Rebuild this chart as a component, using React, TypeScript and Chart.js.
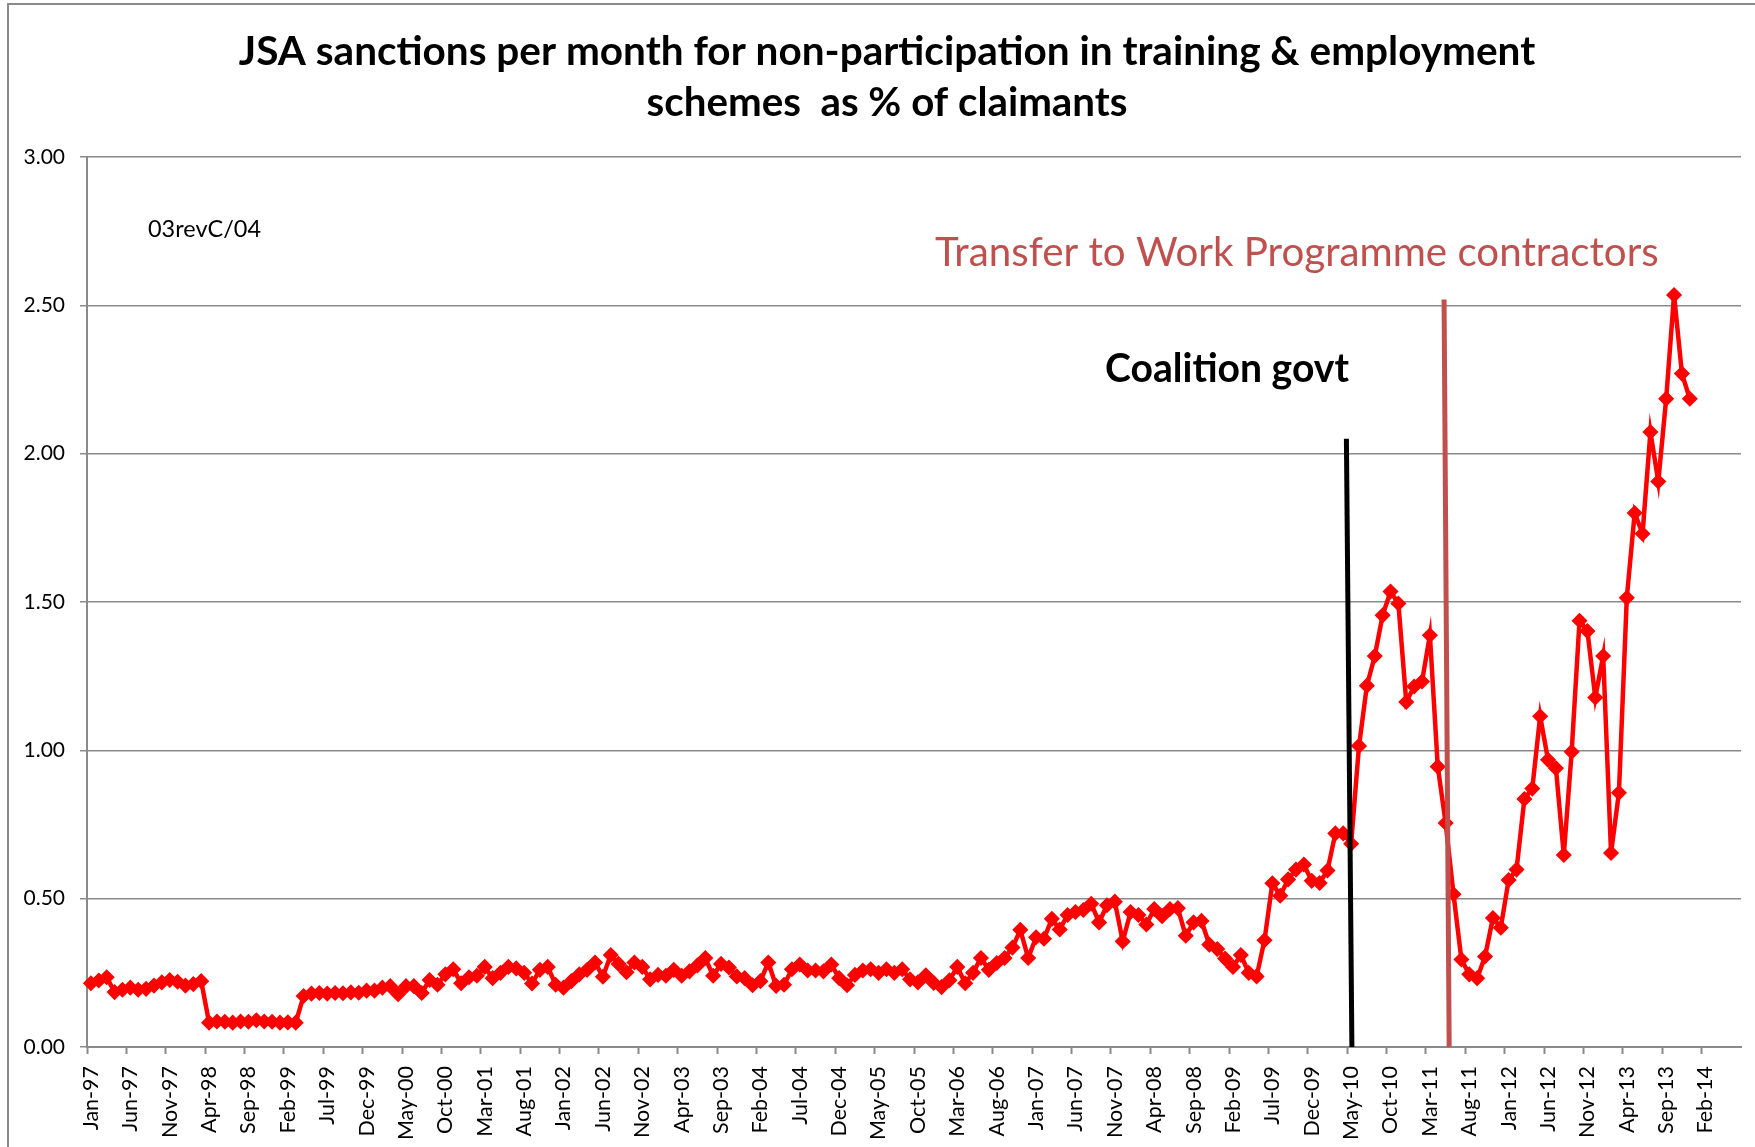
import React, { useEffect, useRef } from 'react';
import { Chart, registerables } from 'chart.js';

Chart.register(...registerables);

// ---- categories: monthly, Jan-97 .. Jun-14 (axis runs a few months past the data) ----
const MONTH_NAMES = ['Jan', 'Feb', 'Mar', 'Apr', 'May', 'Jun', 'Jul', 'Aug', 'Sep', 'Oct', 'Nov', 'Dec'];
const FIRST_YEAR = 1997;
const CATEGORY_COUNT = 210; // Jan-97 .. Jun-14
const categories: string[] = Array.from({ length: CATEGORY_COUNT }, (_, i) => {
  const y = FIRST_YEAR + Math.floor(i / 12);
  return `${MONTH_NAMES[i % 12]}-${String(y % 100).padStart(2, '0')}`;
});
const LABEL_EVERY = 5;

// ---- series values (% of claimants) ----
const valuesJan97toMar98 = [0.215, 0.224, 0.235, 0.185, 0.193, 0.2, 0.193, 0.196, 0.207, 0.218, 0.226, 0.22, 0.207, 0.212, 0.222];
const valuesApr98toMar99 = [0.082, 0.086, 0.085, 0.082, 0.086, 0.085, 0.09, 0.086, 0.085, 0.082, 0.083, 0.082];
const valuesApr99toDec99 = [0.172, 0.18, 0.182, 0.18, 0.182, 0.181, 0.184, 0.183, 0.19];
const valuesJan00toFeb03 = [
  0.19, 0.2, 0.205, 0.178, 0.205, 0.205, 0.182, 0.226, 0.21, 0.245, 0.262, 0.215, 0.235, 0.24, 0.27, 0.232, 0.25, 0.27, 0.265,
  0.25, 0.214, 0.26, 0.27, 0.21, 0.2, 0.222, 0.245, 0.26, 0.285, 0.237, 0.31, 0.28, 0.252, 0.285, 0.27, 0.228, 0.243, 0.24,
];
const valuesMar03toMar06 = [
  0.26, 0.24, 0.255, 0.275, 0.3, 0.24, 0.28, 0.268, 0.238, 0.232, 0.208, 0.222, 0.285, 0.206, 0.21, 0.262, 0.278, 0.258, 0.258,
  0.255, 0.278, 0.232, 0.208, 0.243, 0.258, 0.262, 0.25, 0.262, 0.25, 0.262, 0.228, 0.218, 0.242, 0.216, 0.202, 0.225, 0.27,
];
const valuesApr06toApr09 = [
  0.215, 0.25, 0.3, 0.26, 0.283, 0.3, 0.335, 0.395, 0.3, 0.37, 0.365, 0.432, 0.396, 0.445, 0.455, 0.462, 0.483, 0.42, 0.478,
  0.49, 0.356, 0.455, 0.445, 0.413, 0.465, 0.441, 0.465, 0.468, 0.375, 0.42, 0.425, 0.345, 0.33, 0.298, 0.27, 0.31, 0.25,
];
const valuesMay09toDec11 = [
  0.238, 0.36, 0.552, 0.51, 0.565, 0.598, 0.615, 0.56, 0.553, 0.595, 0.72, 0.72, 0.685, 1.015, 1.218, 1.318, 1.455, 1.535,
  1.495, 1.163, 1.215, 1.232, 1.388, 0.945, 0.755, 0.515, 0.295, 0.245, 0.232, 0.305, 0.435, 0.402,
];
const valuesJan12toDec13 = [
  0.563, 0.598, 0.836, 0.871, 1.115, 0.968, 0.94, 0.647, 0.995, 1.437, 1.402, 1.178, 1.318, 0.654, 0.857, 1.514, 1.8, 1.73,
  2.073, 1.906, 2.185, 2.535, 2.27, 2.185,
];
const sanctionsPct: number[] = [
  ...valuesJan97toMar98,
  ...valuesApr98toMar99,
  ...valuesApr99toDec99,
  ...valuesJan00toFeb03,
  ...valuesMar03toMar06,
  ...valuesApr06toApr09,
  ...valuesMay09toDec11,
  ...valuesJan12toDec13,
];

// ---- y axis ----
const Y_MIN = 0;
const Y_MAX = 3;
const Y_STEP = 0.5;

// ---- annotations ----
const coalitionMonth = 'May-10';
const coalitionTop = 2.05;
const workProgMonth = 'May-11';
const workProgTop = 2.52;

const TITLE_LINES = ['JSA sanctions per month for non-participation in training & employment', 'schemes  as % of claimants'];
const NOTE_TEXT = '03revC/04';
const COALITION_TEXT = 'Coalition govt';
const WORKPROG_TEXT = 'Transfer to Work Programme contractors';

const FONT = '"Lato", "Open Sans", sans-serif';
const GRID_GREY = '#8a8a8a';
const ACCENT_RED = '#c0504d';

function fitFont(ctx: CanvasRenderingContext2D, text: string, weight: string, width: number) {
  ctx.font = `${weight} 100px ${FONT}`;
  const w = ctx.measureText(text).width;
  const size = (100 * width) / w;
  ctx.font = `${weight} ${size}px ${FONT}`;
}

const overlayPlugin = {
  id: 'overlay',
  beforeDraw(chart: any) {
    const { ctx, width, height } = chart;
    ctx.save();
    ctx.fillStyle = '#ffffff';
    ctx.fillRect(0, 0, width, height);
    ctx.strokeStyle = GRID_GREY;
    ctx.lineWidth = 2;
    ctx.beginPath();
    ctx.moveTo(8, height);
    ctx.lineTo(8, 4);
    ctx.lineTo(width, 4);
    ctx.stroke();
    ctx.restore();
  },
  afterDatasetsDraw(chart: any) {
    const { ctx } = chart;
    const xs = chart.scales.x;
    const ys = chart.scales.y;
    const step = xs.getPixelForValue(1) - xs.getPixelForValue(0);
    const drawLine = (month: string, top: number, color: string, dxTop: number, dxBottom: number) => {
      const idx = categories.indexOf(month);
      const cx = xs.getPixelForValue(idx);
      ctx.save();
      ctx.strokeStyle = color;
      ctx.lineWidth = 5;
      ctx.beginPath();
      ctx.moveTo(cx + dxTop * step, ys.getPixelForValue(top));
      ctx.lineTo(cx + dxBottom * step, ys.getPixelForValue(0));
      ctx.stroke();
      ctx.restore();
    };
    drawLine(coalitionMonth, coalitionTop, '#000000', -0.6, 0.1);
    drawLine(workProgMonth, workProgTop, ACCENT_RED, -0.2, 0.45);
  },
  afterDraw(chart: any) {
    const { ctx } = chart;
    ctx.save();
    ctx.textBaseline = 'alphabetic';
    // title
    ctx.fillStyle = '#000000';
    ctx.textAlign = 'center';
    fitFont(ctx, TITLE_LINES[0], 'bold', 1297);
    ctx.fillText(TITLE_LINES[0], 887, 65);
    fitFont(ctx, TITLE_LINES[1], 'bold', 481);
    ctx.fillText(TITLE_LINES[1], 887, 116);
    // note
    ctx.textAlign = 'left';
    fitFont(ctx, NOTE_TEXT, 'normal', 113);
    ctx.fillText(NOTE_TEXT, 148, 237);
    // coalition
    fitFont(ctx, COALITION_TEXT, 'bold', 244);
    ctx.fillText(COALITION_TEXT, 1105, 382);
    // work programme
    ctx.fillStyle = ACCENT_RED;
    fitFont(ctx, WORKPROG_TEXT, 'normal', 724);
    ctx.fillText(WORKPROG_TEXT, 935, 266);
    ctx.restore();
  },
};

export default function App() {
  const ref = useRef<HTMLCanvasElement | null>(null);
  useEffect(() => {
    if (!ref.current) return;
    const chart = new Chart(ref.current, {
      type: 'line',
      data: {
        labels: categories,
        datasets: [
          {
            label: 'JSA sanctions %',
            data: sanctionsPct,
            borderColor: '#ff0000',
            backgroundColor: '#ff0000',
            borderWidth: 4.5,
            pointStyle: 'rectRot',
            pointRadius: 7,
            pointBorderWidth: 1.5,
            pointBackgroundColor: '#ff0000',
            pointBorderColor: '#ff0000',
            tension: 0,
            fill: false,
          },
        ],
      },
      options: {
        responsive: false,
        animation: false,
        devicePixelRatio: 1,
        layout: { padding: { left: 0, top: 157, right: 14, bottom: 0 } },
        plugins: {
          legend: { display: false },
          title: { display: false },
          tooltip: { enabled: false },
        },
        scales: {
          x: {
            type: 'category',
            offset: true,
            grid: {
              offset: true,
              drawOnChartArea: false,
              drawTicks: true,
              tickLength: 7,
              tickWidth: 2,
              tickColor: (c: any) => (c.index % LABEL_EVERY === 0 ? GRID_GREY : 'rgba(0,0,0,0)'),
            },
            border: { display: true, color: GRID_GREY, width: 2 },
            ticks: {
              autoSkip: false,
              minRotation: 90,
              maxRotation: 90,
              padding: 12,
              color: '#000000',
              font: { family: FONT, size: 21.5 },
              callback: (_v: any, idx: number) => (idx % LABEL_EVERY === 0 ? categories[idx] : ''),
            },
            afterFit: (scale: any) => {
              scale.height = 100;
              scale.paddingLeft = 0;
              scale.paddingRight = 0;
            },
          },
          y: {
            min: Y_MIN,
            max: Y_MAX,
            grid: { color: GRID_GREY, lineWidth: 1.5, tickLength: 7, tickColor: GRID_GREY },
            border: { display: true, color: GRID_GREY, width: 2 },
            ticks: {
              stepSize: Y_STEP,
              padding: 15,
              color: '#000000',
              font: { family: FONT, size: 21 },
              callback: (v: any) => Number(v).toFixed(2),
            },
            afterFit: (scale: any) => {
              scale.width = 87;
              scale.paddingTop = 0;
              scale.paddingBottom = 0;
            },
          },
        },
      },
      plugins: [overlayPlugin],
    });
    return () => chart.destroy();
  }, []);
  return (
    <div style={{ position: 'absolute', left: 0, top: 0, width: 1755, height: 1147 }}>
      <canvas ref={ref} width={1755} height={1147} style={{ display: 'block' }} />
    </div>
  );
}
